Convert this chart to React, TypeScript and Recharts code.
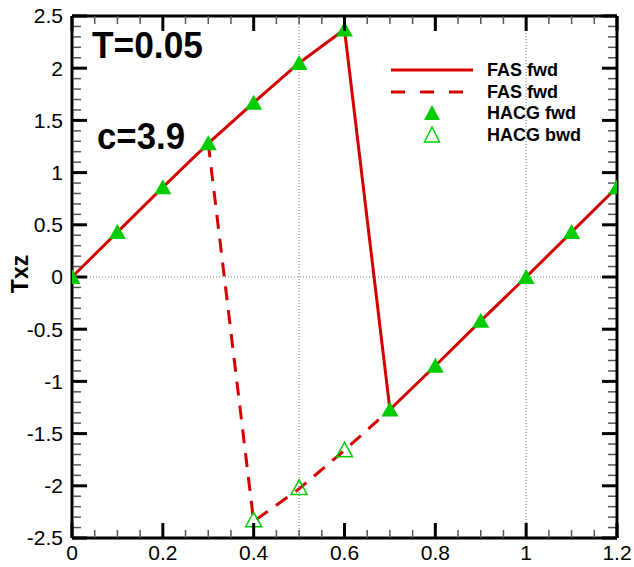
import React from "react";
import {
  ComposedChart,
  Line,
  Scatter,
  XAxis,
  YAxis,
  ReferenceLine,
} from "recharts";

// Txz along x, T=0.05, c=3.9
const xs = [0, 0.1, 0.2, 0.3, 0.4, 0.5, 0.6, 0.7, 0.8, 0.9, 1.0, 1.1, 1.2];
const fasFwd = [0, 0.43, 0.86, 1.28, 1.67, 2.05, 2.37, -1.27, -0.85, -0.42, 0, 0.43, 0.86];
const fasBwdX = [0.3, 0.4, 0.5, 0.6, 0.7];
const fasBwd = [1.28, -2.34, -2.03, -1.66, -1.27];
const hacgFwd = [0, 0.43, 0.86, 1.28, 1.67, 2.05, 2.37, -1.27, -0.85, -0.42, 0, 0.43, 0.86];
const hacgBwdX = [0.4, 0.5, 0.6];
const hacgBwd = [-2.33, -2.02, -1.66];

const xTicks = [0, 0.2, 0.4, 0.6, 0.8, 1, 1.2];
const yTicks = [-2.5, -2, -1.5, -1, -0.5, 0, 0.5, 1, 1.5, 2, 2.5];
const steps = (lo: number, hi: number, d: number) =>
  Array.from({ length: Math.round((hi - lo) / d) + 1 }, (_, i) => +(lo + i * d).toFixed(3));
const xMinor = steps(0, 1.2, 0.05);
const yMinor = steps(-2.5, 2.5, 0.1);

const toRows = (x: number[], y: number[]) => x.map((v, i) => ({ x: v, y: y[i] }));

const RED = "#d40000";
const GREEN = "#00cc00";
const FONT = "'Liberation Sans', Arial, sans-serif";

const PLOT_TOP = 16;
const X_TICK_MARGIN = 7;
const MAJ_LEN = 15;
const MIN_LEN = 8;

const FilledTri = (p: any) => (
  <polygon
    points={`${p.cx},${p.cy - 8} ${p.cx - 8.5},${p.cy + 7} ${p.cx + 8.5},${p.cy + 7}`}
    fill={GREEN}
  />
);
const OpenTri = (p: any) => (
  <polygon
    points={`${p.cx},${p.cy - 8} ${p.cx - 8},${p.cy + 6.5} ${p.cx + 8},${p.cy + 6.5}`}
    fill="none"
    stroke={GREEN}
    strokeWidth={1.5}
  />
);

// bottom axis tick: inward marks at bottom and top edge, label on majors only
const XTick = (p: any) => {
  const v = p.payload.value;
  const major = xTicks.includes(v);
  const bottom = p.y - X_TICK_MARGIN;
  const len = major ? MAJ_LEN : MIN_LEN;
  const st = major ? { stroke: "#000", strokeWidth: 3 } : { stroke: "#555", strokeWidth: 1.5 };
  return (
    <g>
      <line x1={p.x} x2={p.x} y1={bottom} y2={bottom - len} {...st} />
      <line x1={p.x} x2={p.x} y1={PLOT_TOP} y2={PLOT_TOP + len} {...st} />
      {major && (
        <text x={p.x} y={p.y} dy="0.71em" textAnchor="middle" fontSize={21} fill="#000">
          {String(v)}
        </text>
      )}
    </g>
  );
};
const NoLabel = () => <g />;

const X_DOM: [number, number] = [0, 1.2];
const Y_DOM: [number, number] = [-2.5, 2.5];

const majTick = { stroke: "#000", strokeWidth: 3 };
const minTick = { stroke: "#555", strokeWidth: 1.5 };
const frame = { stroke: "#000", strokeWidth: 3 };

export default function App() {
  return (
    <div style={{ position: "absolute", left: 0, top: 0, width: 634, height: 567, background: "#fff" }}>
      <ComposedChart
        width={634}
        height={567}
        margin={{ top: PLOT_TOP, right: 17, bottom: 4, left: 12 }}
        style={{ fontFamily: FONT }}
      >
        <XAxis
          xAxisId="x"
          dataKey="x"
          type="number"
          domain={X_DOM}
          allowDataOverflow
          ticks={xMinor}
          interval={0}
          height={25}
          tickLine={false}
          tickSize={0}
          tickMargin={X_TICK_MARGIN}
          axisLine={frame}
          tick={XTick}
        />
        <YAxis
          yAxisId="y"
          type="number"
          domain={Y_DOM}
          allowDataOverflow
          ticks={yTicks}
          interval={0}
          width={60}
          tickLine={false}
          tickSize={0}
          tickMargin={9}
          axisLine={frame}
          tick={{ fill: "#000", fontSize: 21 }}
        />
        {/* inward y tick marks, left and right; right one also closes the frame */}
        <YAxis yAxisId="lMin" type="number" domain={Y_DOM} allowDataOverflow ticks={yMinor} interval={0} mirror orientation="left" width={1} tick={NoLabel} tickSize={MIN_LEN} tickLine={minTick} axisLine={false} />
        <YAxis yAxisId="lMaj" type="number" domain={Y_DOM} allowDataOverflow ticks={yTicks} interval={0} mirror orientation="left" width={1} tick={NoLabel} tickSize={MAJ_LEN} tickLine={majTick} axisLine={false} />
        <YAxis yAxisId="rMin" type="number" domain={Y_DOM} allowDataOverflow ticks={yMinor} interval={0} mirror orientation="right" width={1} tick={NoLabel} tickSize={MIN_LEN} tickLine={minTick} axisLine={false} />
        <YAxis yAxisId="rMaj" type="number" domain={Y_DOM} allowDataOverflow ticks={yTicks} interval={0} mirror orientation="right" width={1} tick={NoLabel} tickSize={MAJ_LEN} tickLine={majTick} axisLine={frame} />
        {/* top edge of the frame */}
        <ReferenceLine xAxisId="x" yAxisId="y" y={2.5} stroke="#000" strokeWidth={3} />

        {/* dotted grid lines */}
        <ReferenceLine xAxisId="x" yAxisId="y" x={0.5} stroke="#777" strokeDasharray="1 2" />
        <ReferenceLine xAxisId="x" yAxisId="y" x={1} stroke="#777" strokeDasharray="1 2" />
        <ReferenceLine xAxisId="x" yAxisId="y" y={0} stroke="#777" strokeDasharray="1 2" />

        <Line
          xAxisId="x"
          yAxisId="y"
          data={toRows(xs, fasFwd)}
          dataKey="y"
          type="linear"
          stroke={RED}
          strokeWidth={3}
          dot={false}
          isAnimationActive={false}
        />
        <Line
          xAxisId="x"
          yAxisId="y"
          data={toRows(fasBwdX, fasBwd)}
          dataKey="y"
          type="linear"
          stroke={RED}
          strokeWidth={3}
          strokeDasharray="14 10"
          dot={false}
          isAnimationActive={false}
        />
        <Scatter
          xAxisId="x"
          yAxisId="y"
          data={toRows(xs, hacgFwd)}
          dataKey="y"
          shape={FilledTri}
          isAnimationActive={false}
        />
        <Scatter
          xAxisId="x"
          yAxisId="y"
          data={toRows(hacgBwdX, hacgBwd)}
          dataKey="y"
          shape={OpenTri}
          isAnimationActive={false}
        />
      </ComposedChart>

      <svg
        width={634}
        height={567}
        style={{ position: "absolute", left: 0, top: 0, pointerEvents: "none", fontFamily: FONT }}
      >
        <text x={92} y={58} fontSize={37} fontWeight="bold" fill="#000" textLength={111} lengthAdjust="spacingAndGlyphs">
          T=0.05
        </text>
        <text x={97} y={149} fontSize={36} fontWeight="bold" fill="#000" textLength={88} lengthAdjust="spacingAndGlyphs">
          c=3.9
        </text>
        <text
          transform="translate(28 274) rotate(-90)"
          textAnchor="middle"
          fontSize={23}
          fontWeight="bold"
          fill="#000"
        >
          Txz
        </text>

        {/* legend */}
        <line x1={391} x2={473} y1={70} y2={70} stroke={RED} strokeWidth={3} />
        <line x1={391} x2={473} y1={92} y2={92} stroke={RED} strokeWidth={3} strokeDasharray="14 15" />
        <polygon points="432,105 424,120 440,120" fill={GREEN} />
        <polygon points="432,127 424.5,142 439.5,142" fill="none" stroke={GREEN} strokeWidth={1.5} />
        <g fontSize={18} fontWeight="bold" fill="#000">
          <text x={487} y={76}>FAS fwd</text>
          <text x={487} y={98}>FAS fwd</text>
          <text x={487} y={119}>HACG fwd</text>
          <text x={487} y={141}>HACG bwd</text>
        </g>
      </svg>
    </div>
  );
}
